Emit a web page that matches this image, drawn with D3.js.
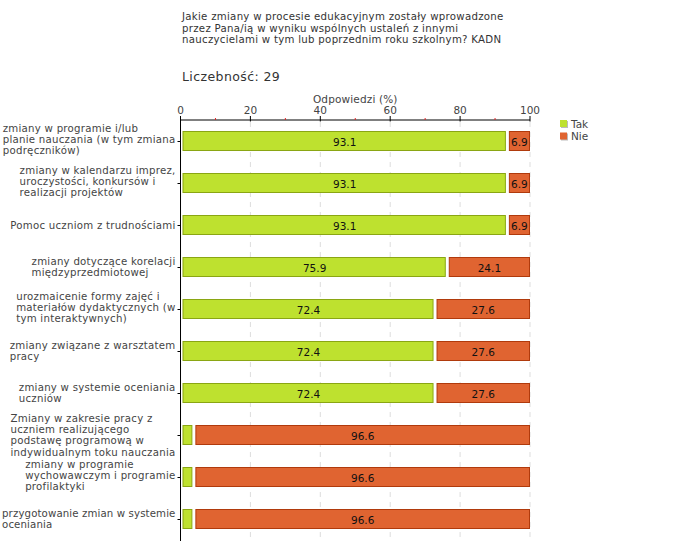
<!DOCTYPE html>
<html><head><meta charset="utf-8">
<script src="https://cdn.jsdelivr.net/npm/d3@7"></script>
<style>body{margin:0;background:#fff}svg{display:block;font-family:"DejaVu Sans",Verdana,sans-serif}</style>
</head><body><svg id="c" width="680" height="560"></svg>
<script>
const categories = [
  "zmiany w programie i/lub\nplanie nauczania (w tym zmiana\npodręczników)",
  "zmiany w kalendarzu imprez,\nuroczystości, konkursów i\nrealizacji projektów",
  "Pomoc uczniom z trudnościami",
  "zmiany dotyczące korelacji\nmiędzyprzedmiotowej",
  "urozmaicenie formy zajęć i\nmateriałów dydaktycznych (w\ntym interaktywnych)",
  "zmiany związane z warsztatem\npracy",
  "zmiany w systemie oceniania\nuczniów",
  "Zmiany w zakresie pracy z\nuczniem realizującego\npodstawę programową w\nindywidualnym toku nauczania",
  "zmiany w programie\nwychowawczym i programie\nprofilaktyki",
  "przygotowanie zmian w systemie\noceniania"
];
const seriesNames = ["Tak", "Nie"];
const tak = [93.1, 93.1, 93.1, 75.9, 72.4, 72.4, 72.4, 3.4, 3.4, 3.4];
const nie = [6.9, 6.9, 6.9, 24.1, 27.6, 27.6, 27.6, 96.6, 96.6, 96.6];
const xTicks = [0, 20, 40, 60, 80, 100];
const xMinorTicks = [10, 30, 50, 70, 90];
const titleLines = [
  "Jakie zmiany w procesie edukacyjnym zostały wprowadzone",
  "przez Pana/ią w wyniku wspólnych ustaleń z innymi",
  "nauczycielami w tym lub poprzednim roku szkolnym? KADN"
];
const countLabel = "Liczebność: 29";
const axisTitle = "Odpowiedzi (%)";
const colors = {Tak: "#bee12f", Nie: "#e06431"};
const strokes = {Tak: "#8aa613", Nie: "#b03a0c"};

(function () {
const svg = d3.select("#c");
const pL = 180.5, pR = 530, pT = 120, pB = 540;
const x = d3.scaleLinear().domain([0, 100]).range([pL, pR]);
const y = d3.scaleBand().domain(d3.range(categories.length)).range([pT, pB]);
const barH = 20;
const txt = "#444";

// title
svg.append("text").attr("x", 182).attr("y", 20).attr("font-size", 10.2).attr("fill", "#333")
  .attr("letter-spacing", 0.28)
  .selectAll("tspan").data(titleLines).join("tspan")
  .attr("x", 182).attr("dy", (d, i) => i ? 11.6 : 0).text(d => d);
svg.append("text").attr("x", 182).attr("y", 81).attr("font-size", 12.5).attr("fill", "#333")
  .attr("letter-spacing", 0.4).text(countLabel);

// gridlines
svg.append("g").selectAll("line").data(xTicks.filter(d => d > 0)).join("line")
  .attr("x1", d => x(d)).attr("x2", d => x(d)).attr("y1", pT + 2).attr("y2", pB + 1)
  .attr("stroke", "#ddd").attr("stroke-dasharray", "5,5");

// x axis
const gx = svg.append("g").attr("transform", `translate(0,${pT})`);
gx.append("line").attr("x1", pL).attr("x2", pR).attr("stroke", "#000");
gx.selectAll(".mj").data(xTicks).join("line").attr("class", "mj")
  .attr("x1", d => x(d)).attr("x2", d => x(d)).attr("y1", -4).attr("y2", 1.5).attr("stroke", "#000");
gx.selectAll(".mn").data(xMinorTicks).join("line").attr("class", "mn")
  .attr("x1", d => x(d)).attr("x2", d => x(d)).attr("y1", -2).attr("y2", 0).attr("stroke", "#d22");
gx.selectAll(".tl").data(xTicks).join("text").attr("class", "tl")
  .attr("x", d => x(d)).attr("y", -6).attr("text-anchor", "middle").attr("font-size", 10.5).attr("fill", txt).text(d => d);
svg.append("text").attr("x", (pL + pR) / 2).attr("y", 103).attr("text-anchor", "middle")
  .attr("font-size", 10.5).attr("letter-spacing", 0.15).attr("fill", txt).text(axisTitle);

// y axis
svg.append("line").attr("x1", pL).attr("x2", pL).attr("y1", pT).attr("y2", 541).attr("stroke", "#000");
svg.append("g").selectAll("line").data(categories).join("line")
  .attr("x1", pL - 3).attr("x2", pL).attr("y1", (d, i) => y(i) + y.bandwidth() / 2 + 0.5)
  .attr("y2", (d, i) => y(i) + y.bandwidth() / 2 + 0.5).attr("stroke", "#000");

// category labels
const lh = 11.2;
categories.forEach((c, i) => {
  const lines = c.split("\n");
  const cy = y(i) + y.bandwidth() / 2 - (lines.length === 3 ? 2 : 0);
  const t = svg.append("text").attr("font-size", 10.2).attr("fill", txt).attr("letter-spacing", 0.25);
  lines.forEach((l, j) => {
    t.append("tspan").attr("y", cy + (j - (lines.length - 1) / 2) * lh + 3.8).text(l);
  });
  let w = d3.max(t.selectAll("tspan").nodes(), n => n.getComputedTextLength());
  if (w > 174) { t.attr("letter-spacing", 0.12); w = d3.max(t.selectAll("tspan").nodes(), n => n.getComputedTextLength()); }
  t.selectAll("tspan").attr("x", Math.max(1, 175.5 - w));
});

// bars
const stacked = categories.map((c, i) => {
  return [{s: "Tak", x0: 0, x1: tak[i], v: tak[i], i}, {s: "Nie", x0: tak[i], x1: tak[i] + nie[i], v: nie[i], i}];
}).flat();
const g = svg.append("g");
g.selectAll("rect").data(stacked).join("rect")
  .attr("x", d => x(d.x0) + (d.s === "Tak" ? 2 : 3) + 0.5)
  .attr("width", d => x(d.x1) - x(d.x0) - (d.s === "Tak" ? 2 : 3) - 1)
  .attr("y", d => y(d.i) + y.bandwidth() / 2 - barH / 2 + 0.5)
  .attr("height", barH - 1)
  .attr("fill", d => colors[d.s]).attr("stroke", d => strokes[d.s]);
g.selectAll("text").data(stacked.filter(d => x(d.x1) - x(d.x0) > 15)).join("text")
  .attr("x", d => (x(d.x0) + x(d.x1)) / 2 + 1.5)
  .attr("y", d => y(d.i) + y.bandwidth() / 2 + 4.5)
  .attr("text-anchor", "middle").attr("font-size", 10.5).attr("fill", "#111").text(d => d.v.toFixed(1));

// legend
const lg = svg.append("g").selectAll("g").data(seriesNames).join("g")
  .attr("transform", (d, i) => `translate(560,${120 + i * 12.5})`);
lg.append("rect").attr("x", 1).attr("y", 1).attr("width", 7).attr("height", 7).attr("fill", "#bbb");
lg.append("rect").attr("width", 7).attr("height", 7).attr("fill", d => colors[d]);
lg.append("text").attr("x", 11).attr("y", 7.5).attr("font-size", 10.5).attr("fill", txt).text(d => d);
})();
</script></body></html>
